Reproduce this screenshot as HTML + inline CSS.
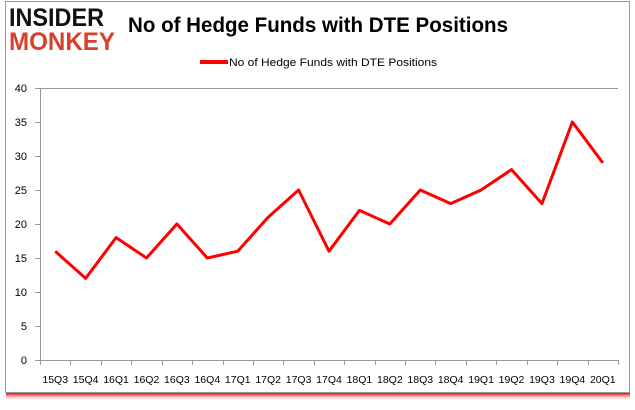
<!DOCTYPE html>
<html><head><meta charset="utf-8"><style>
html,body{margin:0;padding:0;background:#fff;}
body{width:635px;height:405px;overflow:hidden;font-family:"Liberation Sans",sans-serif;}
</style></head><body>
<svg width="635" height="405" xmlns="http://www.w3.org/2000/svg">
<defs><linearGradient id="sh" x1="0" y1="0" x2="0" y2="1"><stop offset="0" stop-color="#e00"/><stop offset="1" stop-color="#fff" stop-opacity="0"/></linearGradient></defs>
<rect x="6" y="393" width="624" height="8" fill="url(#sh)"/>
<rect x="5.5" y="1.5" width="624" height="391" fill="#fff" stroke="#999"/>
<g font-weight="bold" font-size="25">
<text x="9" y="26" fill="#111" textLength="95" lengthAdjust="spacingAndGlyphs">INSIDER</text>
<text x="9" y="50" fill="#d9402b" textLength="106" lengthAdjust="spacingAndGlyphs">MONKEY</text>
</g>
<text x="128" y="32" font-size="21" font-weight="bold" fill="#000" textLength="380" lengthAdjust="spacingAndGlyphs">No of Hedge Funds with DTE Positions</text>
<g>
<line x1="200" y1="62" x2="228" y2="62" stroke="#f00" stroke-width="4"/>
<text x="229" y="66" font-size="11" fill="#000" textLength="208" lengthAdjust="spacingAndGlyphs">No of Hedge Funds with DTE Positions</text>
</g>
<g id="axes"></g>
<g id="series"></g>
</svg>
<script>
const categories=["15Q3","15Q4","16Q1","16Q2","16Q3","16Q4","17Q1","17Q2","17Q3","17Q4","18Q1","18Q2","18Q3","18Q4","19Q1","19Q2","19Q3","19Q4","20Q1"];
const values=[16,12,18,15,20,15,16,21,25,16,22,20,25,23,25,28,23,35,29];
const yTicks=[0,5,10,15,20,25,30,35,40];
const L=40,R=618,T=88,B=360,ymax=40;
const ns="http://www.w3.org/2000/svg";
const bw=(R-L)/categories.length;
const xs=i=>L+bw*(i+0.5);
const ys=v=>B-(v/ymax)*(B-T);
function mk(t,a,p){const e=document.createElementNS(ns,t);for(const k in a)e.setAttribute(k,a[k]);p.appendChild(e);return e;}
const ax=document.getElementById('axes');
const topLine=mk('line',{x1:L,y1:T+.5,x2:R,y2:T+.5,stroke:'#999'},ax);


const ya=mk('line',{x1:L+.5,y1:T,x2:L+.5,y2:B,stroke:'#999'},ax);


const xa=mk('line',{x1:L,y1:B+.5,x2:R,y2:B+.5,stroke:'#999'},ax);


yTicks.forEach(v=>{
 const y=ys(v);
 mk('line',{x1:L-5,y1:y+.5,x2:L,y2:y+.5,stroke:'#999'},ax);
 const t=mk('text',{x:27,y:y+4,'font-size':11,'text-anchor':'end',fill:'#000'},ax);
 t.textContent=v;
 
 
});
for(let i=0;i<=categories.length;i++){const x=Math.round(L+bw*i)+.5;mk('line',{x1:x,y1:B,x2:x,y2:B+5,stroke:'#999'},ax);}
categories.forEach((c,i)=>{
 const t=mk('text',{x:xs(i),y:383,'font-size':10.5,'text-anchor':'middle',fill:'#000'},ax);
 t.textContent=c;
 
 
});
const s=document.getElementById('series');
const pl=mk('polyline',{points:values.map((v,i)=>xs(i)+','+ys(v)).join(' '),fill:'none',stroke:'#f00','stroke-width':3,'stroke-linejoin':'round'},s);


</script>
</body></html>
